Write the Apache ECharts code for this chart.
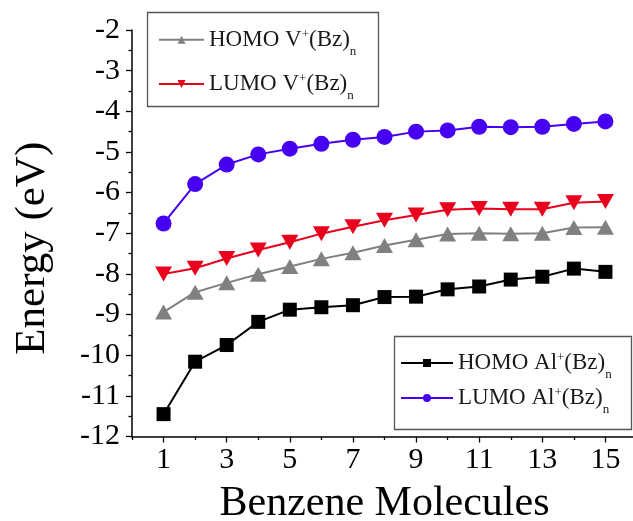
<!DOCTYPE html>
<html>
<head>
<meta charset="utf-8">
<script src="https://cdn.jsdelivr.net/npm/echarts@6/dist/echarts.min.js"></script>
<style>html,body{margin:0;padding:0;background:#fff}#c{width:633px;height:521px}</style>
</head>
<body>
<div id="c"></div>
<script>
var benzene = [1,2,3,4,5,6,7,8,9,10,11,12,13,14,15];
var homoAl = [-11.45,-10.16,-9.75,-9.18,-8.88,-8.82,-8.77,-8.57,-8.56,-8.38,-8.31,-8.14,-8.07,-7.87,-7.95];
var lumoAl = [-6.76,-5.79,-5.31,-5.06,-4.92,-4.80,-4.70,-4.63,-4.50,-4.47,-4.38,-4.39,-4.38,-4.31,-4.25];
var homoV = [-8.94,-8.45,-8.22,-8.01,-7.82,-7.63,-7.48,-7.30,-7.16,-7.02,-7.00,-7.01,-7.00,-6.86,-6.85];
var lumoV = [-8.00,-7.86,-7.62,-7.41,-7.22,-7.01,-6.84,-6.68,-6.55,-6.42,-6.39,-6.41,-6.41,-6.25,-6.22];
var xMajorTicks = [1,3,5,7,9,11,13,15];
var xMinorTicks = [0,2,4,6,8,10,12,14,16];
var names = ['HOMO V+(Bz)n','LUMO V+(Bz)n','HOMO Al+(Bz)n','LUMO Al+(Bz)n'];
var richNames = {
  'HOMO V+(Bz)n': '{t|HOMO V}{sup|+}{t|(Bz)}{sub|n}',
  'LUMO V+(Bz)n': '{t|LUMO V}{sup|+}{t|(Bz)}{sub|n}',
  'HOMO Al+(Bz)n': '{t|HOMO Al}{sup|+}{t|(Bz)}{sub|n}',
  'LUMO Al+(Bz)n': '{t|LUMO Al}{sup|+}{t|(Bz)}{sub|n}'
};
var FONT = "'Liberation Serif', 'Times New Roman', serif";
var legendText = {
  fontFamily: FONT, fontSize: 23, color: '#1a1a1a',
  rich: {
    t: {fontFamily: FONT, fontSize: 23, lineHeight: 24, color: '#1a1a1a', verticalAlign: 'middle'},
    sup: {fontFamily: FONT, fontSize: 13, lineHeight: 13, padding: [0,0,10,0], color: '#1a1a1a', verticalAlign: 'middle'},
    sub: {fontFamily: FONT, fontSize: 13, lineHeight: 13, padding: [24,0,0,0], color: '#1a1a1a', verticalAlign: 'middle'}
  }
};
function mkLegend(name, left, centerY, w) {
  return {
    data: [name], left: left, top: centerY - 18.5, padding: 0,
    itemWidth: w, itemHeight: 10, itemGap: 0,
    formatter: function (n) { return richNames[n]; },
    textStyle: legendText
  };
}
var chart = echarts.init(document.getElementById('c'), null, {renderer: 'canvas'});
chart.setOption({
  animation: false,
  backgroundColor: '#fff',
  grid: {left: 132, top: 30, width: 505, height: 406.5, containLabel: false, outerBoundsMode: 'none'},
  graphic: [
    {type: 'rect', shape: {x: 147.5, y: 12.5, width: 231, height: 94}, style: {fill: 'none', stroke: '#555', lineWidth: 1.3}, z: 10},
    {type: 'rect', shape: {x: 394.5, y: 336.5, width: 237, height: 93}, style: {fill: '#fff', stroke: '#555', lineWidth: 1.3}, z: 1}
  ],
  legend: [
    mkLegend(names[0], 158, 39.7, 45),
    mkLegend(names[1], 158, 84, 45),
    mkLegend(names[2], 400, 363, 52),
    mkLegend(names[3], 400, 398, 52)
  ],
  xAxis: [{
    type: 'value', min: 0, max: 16, position: 'bottom',
    name: 'Benzene Molecules', nameLocation: 'middle', nameGap: 46,
    nameTextStyle: {fontFamily: FONT, fontSize: 42, color: '#000'},
    axisLine: {show: true, lineStyle: {color: '#000', width: 1.5}},
    axisTick: {show: true, inside: false, length: 6, customValues: xMajorTicks, lineStyle: {color: '#000', width: 1.3}},
    axisLabel: {show: true, customValues: xMajorTicks, margin: 9, fontFamily: FONT, fontSize: 30, color: '#000'},
    splitLine: {show: false}
  }, {
    type: 'value', min: 0, max: 16, position: 'bottom', offset: 0,
    axisLine: {show: false},
    axisTick: {show: true, inside: false, length: 3.5, customValues: xMinorTicks, lineStyle: {color: '#000', width: 1.3}},
    axisLabel: {show: false},
    splitLine: {show: false}
  }],
  yAxis: {
    type: 'value', min: -12, max: -2, interval: 1,
    name: 'Energy (eV)', nameLocation: 'middle', nameGap: 78,
    nameTextStyle: {fontFamily: FONT, fontSize: 43, color: '#000', padding: [0, 30, 0, 0]},
    axisLine: {show: true, lineStyle: {color: '#000', width: 1.5}},
    axisTick: {show: true, inside: false, length: 6, lineStyle: {color: '#000', width: 1.3}},
    minorTick: {show: true, splitNumber: 2, length: 3.5, lineStyle: {color: '#000', width: 1.3}},
    axisLabel: {margin: 12, fontFamily: FONT, fontSize: 30, color: '#000'},
    splitLine: {show: false}
  },
  series: [
    {name: names[2], type: 'line', data: benzene.map(function (b, i) { return [b, homoAl[i]]; }),
     symbol: 'rect', symbolSize: 14, color: '#000', lineStyle: {width: 2, color: '#000'}, itemStyle: {color: '#000'}, z: 3},
    {name: names[0], type: 'line', data: benzene.map(function (b, i) { return [b, homoV[i]]; }),
     symbol: 'triangle', symbolSize: [17, 15], color: '#808080', lineStyle: {width: 2, color: '#808080'}, itemStyle: {color: '#808080'}, z: 3},
    {name: names[1], type: 'line', data: benzene.map(function (b, i) { return [b, lumoV[i]]; }),
     symbol: 'triangle', symbolRotate: 180, symbolSize: [17, 15], color: '#E8001C', lineStyle: {width: 2, color: '#E8001C'}, itemStyle: {color: '#E8001C'}, z: 3},
    {name: names[3], type: 'line', data: benzene.map(function (b, i) { return [b, lumoAl[i]]; }),
     symbol: 'circle', symbolSize: 16, color: '#4600F2', lineStyle: {width: 2, color: '#4600F2'}, itemStyle: {color: '#4600F2'}, z: 3}
  ]
});
</script>
</body>
</html>
